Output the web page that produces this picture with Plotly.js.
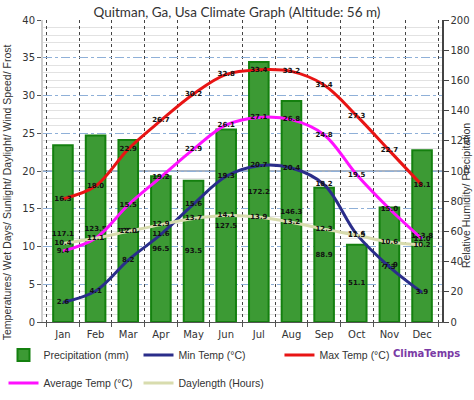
<!DOCTYPE html>
<html><head><meta charset="utf-8">
<script src="https://cdn.plot.ly/plotly-3.0.1.min.js"></script>
<style>html,body{margin:0;padding:0;background:#fff}#chart{width:474px;height:400px}</style>
</head><body><div id="chart"></div>
<script>
const months = ['Jan','Feb','Mar','Apr','May','Jun','Jul','Aug','Sep','Oct','Nov','Dec'];
const precipitation = [117.1,123.5,120.6,96.5,93.5,127.5,172.2,146.3,88.9,51.1,75.9,113.8];
const minTemp = [2.6,4.1,8.2,11.6,15.6,19.3,20.7,20.4,18.2,11.6,7.3,3.9];
const maxTemp = [16.3,18.0,22.9,26.7,30.2,32.8,33.4,33.2,31.4,27.3,22.7,18.1];
const avgTemp = [9.4,11.1,15.5,19.2,22.9,26.1,27.1,26.8,24.8,19.5,15.0,11.0];
const daylength = [10.4,11.1,12.0,12.9,13.7,14.1,13.9,13.2,12.3,11.5,10.6,10.2];

const fmt = a => a.map(v => v.toFixed(1));
const labelFont = {family:'DejaVu Sans', size:7, color:'#111', weight:'bold'};

function lineTrace(name, vals, color, legend){
  return {type:'scatter', mode:'lines+text', name:name, x:months, y:vals, yaxis:'y2',
    line:{color:color, width:3, shape:'spline', smoothing:1},
    text:fmt(vals), textposition:'middle center', textfont:labelFont,
    legend:legend, hoverinfo:'skip'};
}

const traces = [
  {type:'bar', name:'Precipitation (mm)', x:months, y:precipitation, yaxis:'y',
   marker:{color:'#3c9a34', line:{color:'#14800f', width:2}}, width:0.6,
   text:fmt(precipitation), textposition:'inside', insidetextanchor:'middle',
   textangle:0, constraintext:'none', textfont:labelFont, legend:'legend', hoverinfo:'skip'},
  lineTrace('Min Temp (°C)', minTemp, '#2a2d8a', 'legend'),
  lineTrace('Max Temp (°C)', maxTemp, '#e81414', 'legend3'),
  lineTrace('Average Temp (°C)', avgTemp, '#ff10ff', 'legend2'),
  lineTrace('Daylength (Hours)', daylength, '#d8dcae', 'legend2')
];

const tickFont = {family:'DejaVu Sans', size:10, color:'#333'};
const legFont = {family:'Liberation Sans', size:10.5, color:'#333'};
const legBase = {orientation:'h', xref:'container', yref:'container', xanchor:'left', yanchor:'middle',
  font:legFont, entrywidth:90, entrywidthmode:'pixels', itemwidth:30, bgcolor:'rgba(0,0,0,0)'};

const layout = {
  width:474, height:400,
  margin:{l:43, r:32, t:20, b:78},
  paper_bgcolor:'#fff', plot_bgcolor:'#fff',
  showlegend:true,
  title:{text:'Quitman, Ga, Usa Climate Graph (Altitude: 56 m)', font:{family:'Lato', size:13.5, color:'#333'},
         x:0.5, xanchor:'center', yref:'container', y:0.97, yanchor:'middle'},
  xaxis:{type:'category', tickson:'boundaries', ticks:'outside', ticklen:4, tickcolor:'#555',
         showgrid:true, gridcolor:'#444', griddash:'dot', gridwidth:1, ticklabelstandoff:3,
         showline:true, linecolor:'#555', linewidth:1, tickfont:tickFont, fixedrange:true},
  yaxis:{range:[0,200], dtick:20, side:'right', showgrid:false, zeroline:false,
         showline:true, linecolor:'#444', linewidth:1.5, ticks:'outside', ticklen:5, tickcolor:'#444',
         tickfont:tickFont},
  yaxis2:{range:[0,40], dtick:5, side:'left', overlaying:'y', zeroline:false,
          showgrid:true, gridcolor:'#8fb0d8', griddash:'dashdot', gridwidth:1,
          minor:{dtick:1, showgrid:true, gridcolor:'#e2e2e2', griddash:'solid', gridwidth:1},
          showline:true, linecolor:'#cfcfcf', linewidth:2, ticks:'outside', ticklen:4, tickcolor:'#555',
          tickfont:tickFont},
  legend:Object.assign({}, legBase, {x:0.0074, y:1-355/400}),
  legend3:Object.assign({}, legBase, {x:0.5896, y:1-355/400}),
  legend2:Object.assign({}, legBase, {x:0.0074, y:1-383/400}),
  shapes:[{type:'line', xref:'paper', yref:'y2', x0:0, x1:1, y0:20, y1:20, line:{color:'#8d9bb0', width:1.5}, layer:'below'}],
  annotations:[
    {text:'Temperatures/ Wet Days/ Sunlight/ Daylight/ Wind Speed/ Frost', textangle:-90,
     xref:'paper', yref:'paper', x:-0.09, y:0.43, xanchor:'center', yanchor:'middle', showarrow:false,
     font:{family:'Liberation Sans', size:10.5, color:'#333'}},
    {text:'Relative Humidity/ Precipitation', textangle:-90,
     xref:'paper', yref:'paper', x:1.06, y:0.42, xanchor:'center', yanchor:'middle', showarrow:false,
     font:{family:'Liberation Sans', size:10.5, color:'#333'}},
    {text:'<b>ClimaTemps</b>', xref:'paper', yref:'paper', x:0.962, y:-0.103, xanchor:'center', yanchor:'middle',
     showarrow:false, font:{family:'DejaVu Sans', size:10, color:'#7a3aa5'}}
  ]
};

Plotly.newPlot('chart', traces, layout, {staticPlot:true, displayModeBar:false});
</script></body></html>
